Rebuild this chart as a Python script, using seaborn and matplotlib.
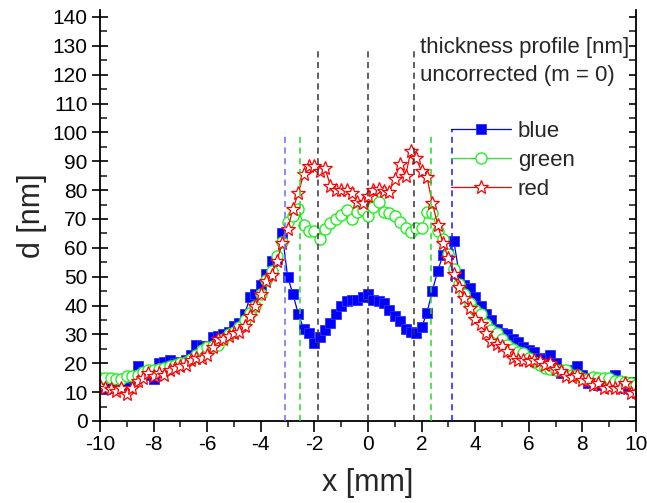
import numpy as np
import pandas as pd
import matplotlib
matplotlib.use("Agg")
import matplotlib.pyplot as plt
from matplotlib.ticker import MultipleLocator
import seaborn as sns

# ---- data -------------------------------------------------------------
x_mm = [round(-10 + 0.2 * i, 1) for i in range(101)]

d_blue = [11, 11, 12, 11.5, 12.5, 14, 15, 19, 17, 16,
          14.5, 20, 20.5, 21, 20, 20.5, 21, 23, 26.5, 26,
          26, 29, 29.5, 30, 31, 33, 34, 37, 43, 44,
          47, 51, 55.5, 56, 65, 50, 44, 37, 32, 30.5,
          27, 29, 31.5, 34, 37, 40, 41.5, 42, 42, 43,
          44, 42, 41.5, 41, 38.5, 36.5, 34.5, 32, 31, 30.5,
          32.5, 37.5, 45, 52, 57.5, 58, 62.5, 51, 47, 46,
          43, 40, 37, 35, 32, 30.5, 30, 28.5, 27.5, 25.5,
          24.5, 24, 22, 21.5, 23, 20, 16.5, 17, 17.5, 19,
          16, 13, 13.5, 12.5, 13, 14.5, 16, 12, 11.5, 11,
          10.5]

d_green = [15, 15, 15, 14.5, 14.5, 15.5, 15.5, 16, 17, 17.5,
           17.5, 18, 18.5, 19, 19.5, 20, 20.5, 21.5, 23, 24.5,
           25.5, 26, 26.5, 28.5, 30, 31, 32.5, 35, 37.5, 40,
           44, 49, 52, 57, 62, 69, 71, 73.5, 68, 66,
           66, 63, 66.5, 68.5, 70, 71.5, 73, 70, 72.5, 73,
           71, 74, 76, 72.5, 72, 71, 69, 67, 65.5, 67,
           67, 72.5, 72, 66, 63, 58, 52.5, 47.5, 44, 41,
           38.5, 37, 33.5, 31.5, 30.5, 28.5, 26.5, 25, 24, 23.5,
           22, 20.5, 19.5, 18.5, 18, 17.5, 17.5, 17.5, 16, 16,
           15, 14.5, 15.3, 15, 14.8, 14.8, 13.8, 14, 13.5, 13,
           12.5]

d_red = [12, 11.5, 11, 10.5, 11.5, 9.5, 11.5, 14, 14.8, 16.5,
         15.5, 16.5, 16, 17.5, 18.5, 19, 19.5, 21, 22, 21.8,
         23, 25.5, 28.5, 28.4, 29.3, 30.5, 31, 33, 36.5, 40,
         44, 48.5, 50.5, 55.5, 61.5, 66.5, 73.5, 79, 85.5, 88.5,
         88.5, 86.5, 87.5, 81.5, 80, 80, 80, 79, 75.8, 75.5,
         78, 80, 80.3, 79.7, 79.5, 84, 89, 85, 93.5, 91,
         86.5, 84.5, 75.5, 68, 61.5, 56.5, 51, 46.5, 42.5, 39,
         35.5, 33.5, 30.5, 27.8, 26.8, 26, 24.3, 22, 21.2, 21.2,
         20.9, 21.2, 20.8, 19.5, 20, 18, 17.2, 15.7, 15.1, 15.9,
         14.2, 14.2, 12.5, 13, 11.6, 11.9, 11.3, 11.3, 13, 9.8,
         10]

series_names = ["blue", "green", "red"]

# dashed reference lines: position, upper end, colour
vline_x = [-3.1, -2.52, -1.88, 0.0, 1.72, 2.35, 3.12]
vline_top = [100, 99.5, 129, 128.5, 129, 99.5, 101]
vline_colors = ["#6a6aff", "#22dd22", "#333333", "#333333", "#333333", "#22dd22", "#1a1aff"]

annotation_lines = ["thickness profile [nm]", "uncorrected (m = 0)"]

# ---- figure -----------------------------------------------------------
sns.set_style("ticks")
plt.rcParams["font.family"] = ["Liberation Sans", "DejaVu Sans"]
plt.rcParams["axes.unicode_minus"] = False

W, H = 647, 503
fig = plt.figure(figsize=(W / 100, H / 100), dpi=100)
ax = fig.add_axes([100 / W, 82 / H, 536 / W, 411 / H])

df = pd.DataFrame({"x": x_mm, "blue": d_blue, "green": d_green, "red": d_red})

sns.lineplot(data=df, x="x", y="blue", ax=ax, color="#0000ff", linewidth=0.9,
             marker="s", markersize=7.5, markeredgecolor="#3030ff",
             markerfacecolor="#0000ff", markeredgewidth=0.6,
             label="blue", estimator=None, sort=False)
sns.lineplot(data=df, x="x", y="green", ax=ax, color="#22ee22", linewidth=0.9,
             marker="o", markersize=8, markeredgecolor="#22ee22",
             markerfacecolor="white", markeredgewidth=1.0,
             label="green", estimator=None, sort=False)
sns.lineplot(data=df, x="x", y="red", ax=ax, color="#ff0000", linewidth=0.9,
             marker="*", markersize=10.5, markeredgecolor="#ff0000",
             markerfacecolor="white", markeredgewidth=0.9,
             label="red", estimator=None, sort=False)

for xv, top, c in zip(vline_x, vline_top, vline_colors):
    ax.plot([xv, xv], [0, top], color=c, linewidth=1.1,
            dashes=(4, 3), zorder=4)

ax.set_xlim(-10, 10)
ax.set_ylim(0, 142.4)

ax.xaxis.set_major_locator(MultipleLocator(2))
ax.xaxis.set_minor_locator(MultipleLocator(1))
ax.yaxis.set_major_locator(MultipleLocator(10))
ax.yaxis.set_minor_locator(MultipleLocator(5))
ax.set_yticks(np.arange(0, 141, 10))

ax.spines["top"].set_visible(False)
for s in ["left", "bottom", "right"]:
    ax.spines[s].set_linewidth(1.3)
    ax.spines[s].set_color("black")

ax.tick_params(axis="x", which="major", direction="out", length=8, width=1.2,
               labelsize=15, pad=2, colors="black")
ax.tick_params(axis="x", which="minor", direction="out", length=4, width=1.2)
ax.tick_params(axis="y", which="major", direction="inout", length=12, width=1.2,
               labelsize=15, pad=3, right=True, colors="black")
ax.tick_params(axis="y", which="minor", direction="in", length=5, width=1.2,
               right=True)
ax.tick_params(axis="y", which="both", labelright=False)

# right spine major ticks point inward only
for t in ax.yaxis.get_major_ticks():
    t.tick2line.set_marker(matplotlib.lines.TICKLEFT)
    t.tick2line.set_markersize(5)

ax.set_xlabel("x [mm]", fontsize=22, labelpad=10)
ax.set_ylabel("d [nm]", fontsize=22, labelpad=4)

leg = ax.legend(loc="upper left", bbox_to_anchor=(451 / W, 1 - 121 / H),
                bbox_transform=fig.transFigure, frameon=False, fontsize=16,
                handlelength=2.7, handletextpad=0.3, labelspacing=0.36,
                borderpad=0, borderaxespad=0)

fig.text(420 / W, 1 - 48 / H, annotation_lines[0], fontsize=16, va="center", ha="left")
fig.text(420 / W, 1 - 75 / H, annotation_lines[1], fontsize=16, va="center", ha="left")

fig.savefig("out.png", dpi=100)
